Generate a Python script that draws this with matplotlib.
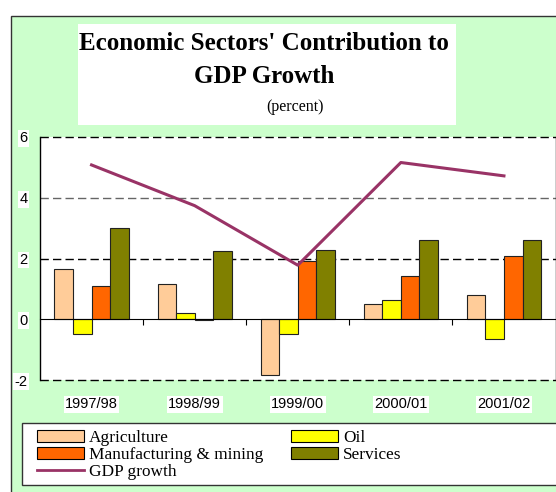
import numpy as np
import matplotlib
matplotlib.use("Agg")
from matplotlib import pyplot as plt
from matplotlib.patches import Rectangle, Patch
from matplotlib.lines import Line2D

plt.rcParams["axes.unicode_minus"] = False

years = ["1997/98", "1998/99", "1999/00", "2000/01", "2001/02"]
agriculture = [1.66, 1.17, -1.82, 0.49, 0.80]
oil = [-0.48, 0.21, -0.48, 0.64, -0.65]
manufacturing = [1.09, -0.02, 1.91, 1.43, 2.08]
services = [2.99, 2.25, 2.27, 2.62, 2.60]
gdp_growth = [5.08, 3.74, 1.78, 5.16, 4.72]

W, H = 556, 492
fig = plt.figure(figsize=(W / 100, H / 100), dpi=100)
fig.patch.set_facecolor("white")

def fx(px):
    return px / W

def fy(py):
    return 1 - py / H

# green frame
fig.patches.append(Rectangle((fx(11), -0.1), 1.2, fy(16) + 0.1, transform=fig.transFigure,
                             facecolor="#CCFFCC", edgecolor="#333333", lw=1, zorder=0))
# white title box
fig.patches.append(Rectangle((fx(78), fy(125)), fx(456) - fx(78), fy(24) - fy(125),
                             transform=fig.transFigure, facecolor="white", edgecolor="none", zorder=1))
fig.text(fx(264), fy(43), "Economic Sectors' Contribution to", ha="center", va="center",
         fontsize=18, fontweight="bold", family="Liberation Serif")
fig.text(fx(264), fy(76), "GDP Growth", ha="center", va="center",
         fontsize=18, fontweight="bold", family="Liberation Serif")
fig.text(fx(295), fy(107), "(percent)", ha="center", va="center",
         fontsize=11.5, family="Liberation Serif")

ax = fig.add_axes([fx(40), fy(380), fx(555.5) - fx(40), fy(137) - fy(380)])
ax.set_zorder(2)
ax.set_facecolor("white")
x = np.arange(len(years))
w = 0.18
series = [(agriculture, "#FFCC99", "Agriculture"), (oil, "#FFFF00", "Oil"),
          (manufacturing, "#FF6600", "Manufacturing & mining"), (services, "#808000", "Services")]
for i, (vals, col, lab) in enumerate(series):
    ax.bar(x + (i - 1.5) * w, vals, w, color=col, edgecolor="#222222", lw=0.8, zorder=3)
ax.plot(x, gdp_growth, color="#993366", lw=2.2, zorder=4)

ax.set_xlim(-0.5, 4.5)
ax.set_ylim(-2, 6)
for yv, c in [(6, "black"), (4, "#666666"), (2, "black"), (-2, "black")]:
    ax.axhline(yv, color=c, lw=1, ls=(0, (6, 3)), clip_on=False, zorder=2)
ax.spines["top"].set_visible(False)
ax.spines["bottom"].set_position(("data", 0))
ax.spines["bottom"].set_zorder(5)
ax.spines["left"].set_linewidth(1)
ax.spines["right"].set_linewidth(1)
ax.set_xticks([0.5, 1.5, 2.5, 3.5])
ax.tick_params(axis="x", direction="out", length=4, labelbottom=False)
ax.set_yticks([-2, 0, 2, 4, 6])
ax.tick_params(axis="y", length=0, pad=9, labelsize=10.5)
for lbl in ax.get_yticklabels():
    lbl.set_family("Liberation Sans")
    lbl.set_bbox(dict(facecolor="white", edgecolor="none", pad=1))
for i, yr in enumerate(years):
    ax.text(i, -2.8, yr, ha="center", va="center", fontsize=10.5, family="Liberation Sans",
            bbox=dict(facecolor="white", edgecolor="none", pad=1), clip_on=False)

# legend box
fig.patches.append(Rectangle((fx(22), fy(485)), 1.2, fy(423) - fy(485), transform=fig.transFigure,
                             facecolor="white", edgecolor="#333333", lw=1, zorder=1))
handles = [Patch(facecolor="#FFCC99", edgecolor="black", lw=0.8),
           Patch(facecolor="#FF6600", edgecolor="black", lw=0.8),
           Line2D([], [], color="#993366", lw=2),
           Patch(facecolor="#FFFF00", edgecolor="black", lw=0.8),
           Patch(facecolor="#808000", edgecolor="black", lw=0.8)]
labels = ["Agriculture", "Manufacturing & mining", "GDP growth", "Oil", "Services"]
leg = fig.legend(handles, labels, loc="upper left", bbox_to_anchor=(fx(37), fy(430)), ncol=2,
                 frameon=False, prop={"family": "Liberation Serif", "size": 12.4},
                 handlelength=2.7, handleheight=0.7, handletextpad=0.3, labelspacing=0.05,
                 columnspacing=1.65, borderpad=0, borderaxespad=0)
leg.set_zorder(3)

plt.savefig("out.png", dpi=100, facecolor=fig.get_facecolor())
